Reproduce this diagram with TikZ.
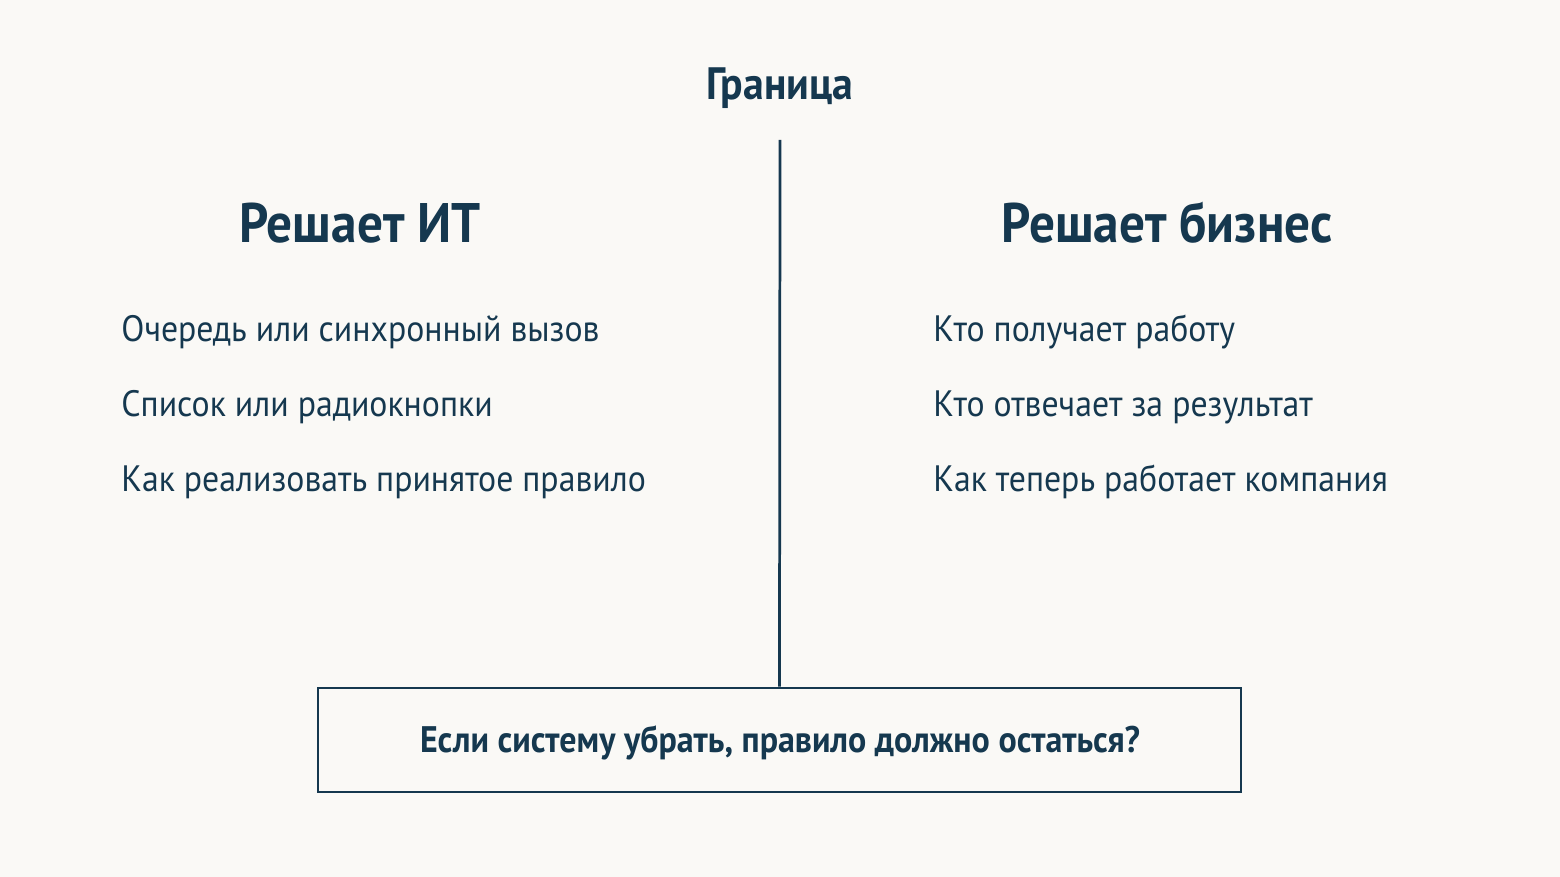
\documentclass[tikz,border=0pt]{standalone}
\usepackage{fontspec}
\setmainfont{PT Sans}[FakeStretch=0.92]
\definecolor{ink}{HTML}{15384F}
\definecolor{paper}{HTML}{FAF9F6}
\tikzset{
    heading/.style={text=ink, anchor=base, font=\bfseries\fontsize{26.4}{30}\selectfont, inner sep=0pt},
    item/.style={text=ink, anchor=base west, font=\fontsize{17.4}{22}\selectfont, inner sep=0pt},
    qbox/.style={draw=ink, line width=1.3pt, minimum width=15.38cm, minimum height=1.73cm, inner sep=0pt}
}
\begin{document}
\begin{tikzpicture}[x=0.016667cm, y=-0.016667cm]
        \fill[paper] (0, 0) rectangle (1560, 877);
        \useasboundingbox (0, 0) rectangle (1560, 877);
        \node[text=ink, anchor=base, font=\bfseries\fontsize{21.5}{26}\selectfont, inner sep=0pt] (title) at (780, 100) {Граница};
        \coordinate (top) at (780, 140);
        \node[qbox] (question) at (779.5, 740) {};
        \node[text=ink, anchor=base, font=\bfseries\fontsize{17.5}{22}\selectfont, inner sep=0pt] (qtext) at (780, 753) {Если систему убрать, правило должно остаться?};
        \draw[ink, line width=1.3pt] (top) -- (question.north);
        \node[heading] (it) at (360, 243) {Решает ИТ};
        \node[heading] (biz) at (1167, 243) {Решает бизнес};
        \node[item] (it1) at (121, 342) {Очередь или синхронный вызов};
        \node[item] (it2) at (121, 417) {Список или радиокнопки};
        \node[item] (it3) at (121, 492) {Как реализовать принятое правило};
        \node[item] (biz1) at (933, 342) {Кто получает работу};
        \node[item] (biz2) at (933, 417) {Кто отвечает за результат};
        \node[item] (biz3) at (933, 492) {Как теперь работает компания};
    \end{tikzpicture}
\end{document}
